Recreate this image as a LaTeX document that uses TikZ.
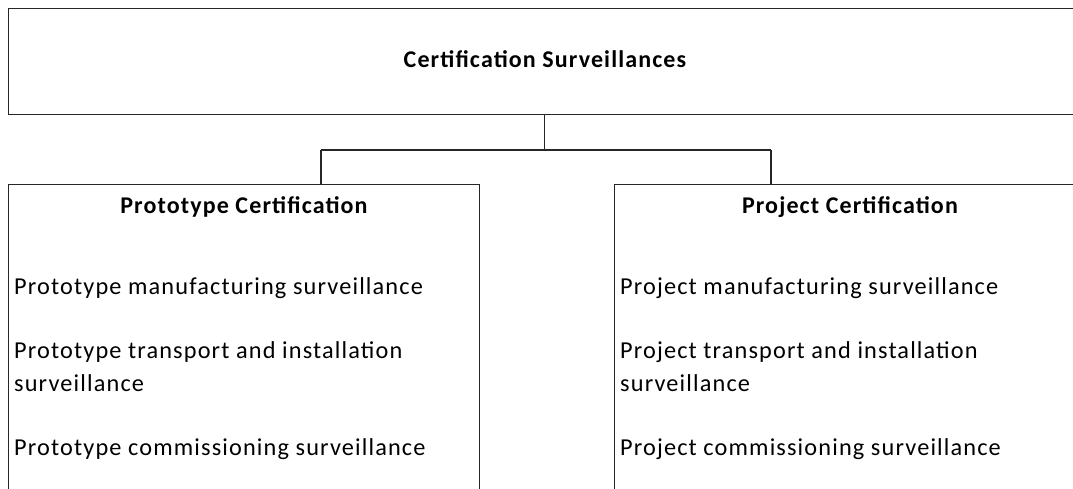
\documentclass[tikz,border=0pt]{standalone}
\usepackage{fontspec}
\setmainfont{Carlito}[LetterSpace=4.7]
\usetikzlibrary{positioning}

\begin{document}
\begin{tikzpicture}[
    x=1pt, y=1pt,
    box/.style={draw=black!85, line width=1.3pt, inner sep=0pt},
    link/.style={draw=black!85, line width=1.3pt},
    head/.style={font=\fontsize{24}{26}\selectfont\bfseries, inner sep=0pt},
    item/.style={font=\fontsize{24.3}{33}\selectfont, align=left, inner sep=0pt, anchor=base west},
]
\clip (0,0) rectangle (1073,488);
\fill[white] (0,0) rectangle (1073,488);

% Boxes
\node[box, minimum width=1072pt, minimum height=106pt, anchor=north west] (cert) at (8,480) {};
\node[box, minimum width=471pt, minimum height=340pt, anchor=north west] (proto) at (8,304) {};
\node[box, minimum width=471pt, minimum height=340pt, anchor=north west] (proj) at (614,304) {};

% Connectors
\coordinate (busl) at (321,338);
\coordinate (busr) at (771,338);
\draw[link] (cert.south) -- (cert.south |- busl);
\draw[link] (busl) -- (busr);
\draw[link] (busl) -- (busl |- proto.north);
\draw[link] (busr) -- (busr |- proj.north);

% Headings
\node[head, anchor=base] (certt) at (545,420) {Certification Surveillances};
\node[head, anchor=base] (protot) at (244,275) {Prototype Certification};
\node[head, anchor=base] (projt) at (850,275) {Project Certification};

% Items
\node[item] (pr1) at (14,194) {Prototype manufacturing surveillance};
\node[item] (pr2) at (14,97) {Prototype transport and installation\\surveillance};
\node[item] (pr3) at (14,33) {Prototype commissioning surveillance};
\node[item] (pj1) at (620,194) {Project manufacturing surveillance};
\node[item] (pj2) at (620,97) {Project transport and installation\\surveillance};
\node[item] (pj3) at (620,33) {Project commissioning surveillance};
\end{tikzpicture}
\end{document}
